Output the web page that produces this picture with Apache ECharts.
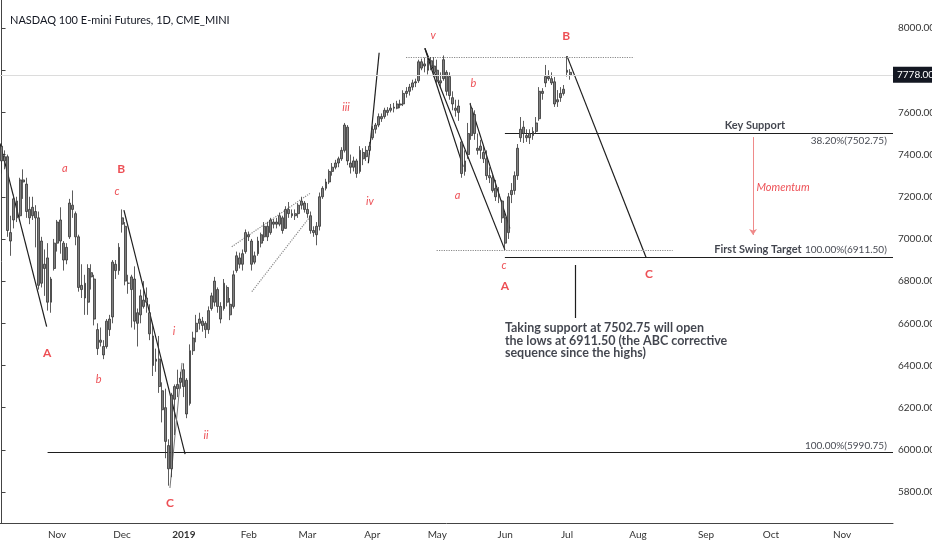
<!DOCTYPE html>
<html>
<head>
<meta charset="utf-8">
<title>NASDAQ 100 E-mini Futures, 1D</title>
<script src="https://cdn.jsdelivr.net/npm/echarts@6/dist/echarts.min.js"></script>
<style>
    html, body { margin: 0; padding: 0; background: #fff; }
    #chart { width: 932px; height: 550px; }
</style>
</head>
<body>
<div id="chart"></div>
<script>
// trading calendar (weekdays minus exchange holidays), projected to Nov 2019
var firstDay = '2018-10-08';
var lastDay = '2019-11-25';
var holidays = ['2018-11-22', '2018-12-25', '2019-01-01', '2019-01-21', '2019-02-18', '2019-04-19', '2019-05-27'];
var monthNames = ['Jan', 'Feb', 'Mar', 'Apr', 'May', 'Jun', 'Jul', 'Aug', 'Sep', 'Oct', 'Nov', 'Dec'];

// daily bars from 2018-10-08 to 2019-07-02: [open, close, low, high]
var ohlc = [
    [7440, 7370, 7310, 7455], [7370, 7390, 7330, 7420], [7390, 7040, 7010, 7400], [7030, 6990, 6920, 7110],
    [7090, 7190, 7050, 7210], [7180, 7100, 7080, 7200], [7110, 7280, 7100, 7290], [7280, 7270, 7190, 7330],
    [7260, 7130, 7100, 7290], [7140, 7100, 7070, 7200], [7110, 7150, 7090, 7200], [7130, 7100, 6960, 7160],
    [7100, 6780, 6760, 7130], [6790, 6990, 6770, 7010], [6880, 6860, 6730, 6950], [6910, 6700, 6660, 6980],
    [6700, 6810, 6650, 6820], [6860, 6980, 6850, 7000],
    [6980, 7080, 6940, 7090], [7090, 6990, 6930, 7150], [6980, 6900, 6850, 6990], [6900, 6960, 6880, 6980],
    [7010, 7170, 7000, 7190], [7160, 7140, 7100, 7230], [7120, 7010, 6970, 7130], [7010, 6770, 6750, 7020],
    [6780, 6760, 6720, 6880], [6790, 6720, 6640, 6830], [6700, 6860, 6640, 6880], [6840, 6820, 6760, 6880],
    [6810, 6620, 6590, 6830], [6570, 6480, 6450, 6600], [6520, 6510, 6490, 6580], [6490, 6450, 6430, 6520],
    [6490, 6610, 6480, 6620], [6570, 6620, 6540, 6640], [6630, 6890, 6600, 6900], [6880, 6850, 6810, 6900],
    [6850, 6960, 6830, 6980],
    [7100, 7070, 7030, 7140], [7060, 6800, 6780, 7080], [6790, 6790, 6740, 6830], [6760, 6820, 6580, 6830],
    [6810, 6610, 6570, 6870], [6600, 6650, 6490, 6670], [6730, 6640, 6600, 6760], [6680, 6710, 6670, 6800],
    [6720, 6700, 6650, 6770], [6650, 6550, 6520, 6690], [6540, 6400, 6350, 6590], [6420, 6430, 6370, 6480],
    [6430, 6300, 6270, 6540], [6280, 6190, 6130, 6320], [6200, 6040, 5960, 6290], [6020, 5910, 5830, 6050],
    [5910, 6260, 5870, 6270], [6240, 6300, 6070, 6310], [6310, 6290, 6250, 6380], [6320, 6340, 6290, 6370],
    [6300, 6380, 6250, 6410], [6330, 6170, 6150, 6340], [6220, 6470, 6210, 6500], [6470, 6530, 6450, 6560],
    [6560, 6600, 6510, 6640], [6600, 6620, 6570, 6650], [6590, 6610, 6560, 6630], [6600, 6570, 6530, 6610],
    [6570, 6660, 6550, 6680], [6670, 6730, 6660, 6745], [6700, 6800, 6680, 6820], [6760, 6680, 6650, 6770],
    [6680, 6620, 6600, 6700], [6670, 6790, 6660, 6810], [6770, 6700, 6680, 6780], [6690, 6640, 6615, 6720],
    [6680, 6830, 6670, 6850], [6850, 6920, 6840, 6940], [6910, 6880, 6860, 6935], [6880, 6930, 6850, 6950],
    [6940, 7030, 6930, 7045],
    [7020, 7010, 6990, 7035], [6990, 6880, 6850, 7000], [6890, 6920, 6880, 6940], [6930, 6990, 6920, 7010],
    [6980, 7020, 6960, 7030], [7010, 7060, 6990, 7080], [7060, 7010, 6990, 7080], [7030, 7090, 7020, 7100],
    [7080, 7070, 7050, 7095], [7070, 7080, 7050, 7100], [7070, 7110, 7060, 7125], [7100, 7040, 7025, 7110],
    [7050, 7140, 7050, 7155], [7140, 7120, 7100, 7175], [7120, 7110, 7100, 7140], [7110, 7120, 7090, 7140],
    [7120, 7160, 7100, 7170], [7160, 7180, 7140, 7200], [7170, 7140, 7125, 7180],
    [7140, 7120, 7100, 7170], [7110, 7040, 7025, 7130], [7040, 7030, 7010, 7060], [7020, 7060, 6970, 7080],
    [7060, 7200, 7040, 7220], [7200, 7240, 7190, 7250], [7240, 7270, 7230, 7285], [7270, 7320, 7260, 7330],
    [7320, 7340, 7300, 7360], [7340, 7360, 7330, 7375], [7360, 7380, 7340, 7390], [7380, 7420, 7370, 7435],
    [7420, 7540, 7410, 7550], [7530, 7370, 7350, 7540], [7360, 7340, 7310, 7400], [7340, 7370, 7320, 7390],
    [7370, 7310, 7290, 7380], [7320, 7420, 7310, 7440], [7410, 7380, 7350, 7430], [7390, 7420, 7370, 7440],
    [7420, 7440, 7400, 7460],
    [7480, 7520, 7470, 7535], [7520, 7540, 7500, 7550], [7540, 7580, 7530, 7595], [7580, 7570, 7555, 7595],
    [7580, 7610, 7570, 7622], [7600, 7610, 7585, 7625], [7610, 7620, 7600, 7640], [7620, 7625, 7600, 7645],
    [7620, 7640, 7615, 7655], [7640, 7635, 7620, 7660], [7640, 7690, 7630, 7705], [7690, 7700, 7670, 7720],
    [7700, 7720, 7680, 7735], [7720, 7740, 7705, 7755], [7740, 7745, 7720, 7760], [7750, 7840, 7740, 7850],
    [7840, 7810, 7800, 7855], [7820, 7830, 7790, 7860], [7800, 7845, 7780, 7858], [7845, 7820, 7800, 7862],
    [7820, 7790, 7768, 7862],
    [7800, 7750, 7740, 7850], [7750, 7740, 7720, 7790], [7760, 7850, 7750, 7870], [7700, 7790, 7680, 7800],
    [7770, 7680, 7660, 7790], [7670, 7640, 7610, 7700], [7610, 7620, 7580, 7660], [7630, 7600, 7560, 7660],
    [7460, 7310, 7290, 7470], [7320, 7370, 7300, 7420], [7400, 7500, 7380, 7550], [7490, 7620, 7470, 7645],
    [7590, 7500, 7470, 7610], [7420, 7430, 7400, 7500], [7440, 7420, 7380, 7470], [7410, 7380, 7360, 7440],
    [7380, 7300, 7280, 7420], [7300, 7290, 7265, 7340], [7290, 7230, 7220, 7310], [7240, 7200, 7180, 7280],
    [7200, 7210, 7170, 7246], [7180, 7100, 7076, 7185],
    [7100, 6980, 6950, 7123], [7030, 7200, 7000, 7218], [7210, 7230, 7170, 7265], [7230, 7300, 7210, 7320],
    [7300, 7430, 7280, 7450], [7480, 7520, 7460, 7578], [7530, 7500, 7455, 7560], [7490, 7480, 7460, 7520],
    [7480, 7500, 7450, 7520], [7490, 7510, 7470, 7530], [7510, 7550, 7500, 7578], [7570, 7700, 7560, 7720],
    [7700, 7690, 7660, 7715], [7740, 7770, 7720, 7825], [7770, 7760, 7750, 7800], [7760, 7740, 7730, 7790],
    [7745, 7640, 7626, 7768], [7650, 7660, 7626, 7706], [7670, 7690, 7650, 7720], [7690, 7710, 7680, 7730],
    [7800, 7790, 7770, 7867], [7790, 7778, 7755, 7805]
];
var lastPrice = 7778;

// drawn annotations, in [bar index, price]
var solidLines = [
    [[-0.5, 7453], [14.6, 6584]],
    [[39.6, 7137], [59.4, 5980]],
    [[118.7, 7359], [122.2, 7883]],
    [[137.0, 7904], [149.4, 7343]],
    [[137.0, 7904], [162.9, 6948]],
    [[151.6, 7643], [164.5, 7050]],
    [[183.0, 7867], [208.6, 6912]],
    [[185.6, 6876], [185.6, 6625]]
];
var thinLines = [
    [[54.5, 5819], [58.4, 6412]]
];
var dottedLines = [
    [[130.9, 7860], [204.7, 7860]],
    [[140.8, 6944], [217.2, 6944]],
    [[74.5, 6963], [99.8, 7216]],
    [[81.0, 6750], [99.8, 7105]]
];
var fibLevels = [[162.9, 7502.75], [162.9, 6911.5], [14.9, 5990.75]];
var momentumArrow = [[243.2, 7483], [243.2, 7019]];

// [bar index, price, text, capital wave?]
var waveLabels = [
    [14.8, 6459, 'A', 1], [20.5, 7332, 'a', 0], [38.7, 7332, 'B', 1], [37.4, 7227, 'c', 0],
    [31.4, 6336, 'b', 0], [54.5, 5745, 'C', 1], [55.8, 6563, 'i', 0], [66.2, 6067, 'ii', 0],
    [111.5, 7622, 'iii', 0], [119.2, 7180, 'iv', 0], [139.7, 7964, 'v', 0], [152.7, 7738, 'b', 0],
    [147.6, 7204, 'a', 0], [162.6, 6872, 'c', 0], [162.9, 6778, 'A', 1], [182.7, 7962, 'B', 1],
    [209.5, 6834, 'C', 1]
];
// [bar index, price, text, anchor, bold]
var noteLabels = [
    [243.8, 7540, 'Key Support', 'center', 1],
    [244.8, 6948, 'First Swing Target', 'center', 1],
    [286.5, 7464, '38.20%(7502.75)', 'right', 0],
    [286.5, 6948, '100.00%(6911.50)', 'right', 0],
    [286.5, 6019, '100.00%(5990.75)', 'right', 0],
    [162.9, 6517, 'Taking support at 7502.75 will open\nthe lows at 6911.50 (the ABC corrective\nsequence since the highs)', 'left', 2]
];
var momentumText = [252.9, 7246, 'Momentum'];

var font = "Lato, 'Liberation Sans', sans-serif";
var red = '#e8232b';
var noteSizes = [10, 11, 12.5];

var dates = [];
(function () {
    var d = new Date(firstDay + 'T00:00:00Z');
    var end = new Date(lastDay + 'T00:00:00Z');
    while (d <= end) {
        var s = d.toISOString().slice(0, 10);
        var wd = d.getUTCDay();
        if (wd !== 0 && wd !== 6 && holidays.indexOf(s) < 0) {
            dates.push(s);
        }
        d.setUTCDate(d.getUTCDate() + 1);
    }
})();

function isMonthStart(idx) {
    if (idx === 0) return false;
    return dates[idx].slice(5, 7) !== dates[idx - 1].slice(5, 7);
}

function segs(list) {
    return list.map(function (s) { return {coords: s}; });
}

var levelSegs = fibLevels.map(function (f) {
    return {coords: [[f[0], f[1]], [dates.length - 0.5, f[1]]]};
});

var labelData = waveLabels.map(function (w) {
    return {
        value: [w[0], w[1]],
        label: {
            formatter: w[2],
            color: red,
            fontSize: w[3] ? 12 : 11,
            fontWeight: w[3] ? 'bold' : 'normal',
            fontStyle: w[3] ? 'normal' : 'italic',
            position: 'inside'
        }
    };
});
noteLabels.forEach(function (n) {
    var pos = n[3] === 'center' ? 'inside' : (n[3] === 'right' ? 'left' : 'right');
    var size = noteSizes[n[4]];
    labelData.push({
        value: [n[0], n[1]],
        label: {
            formatter: n[2],
            color: '#131722',
            fontSize: size,
            fontWeight: n[4] ? 'bold' : 'normal',
            lineHeight: 12.5,
            position: pos,
            distance: 0
        }
    });
});
labelData.push({
    value: [momentumText[0], momentumText[1]],
    label: {formatter: momentumText[2], color: red, fontSize: 11, fontStyle: 'italic', position: 'inside'}
});

var chart = echarts.init(document.getElementById('chart'));
chart.setOption({
    animation: false,
    backgroundColor: '#ffffff',
    textStyle: {fontFamily: font},
    title: {
        text: 'NASDAQ 100 E-mini Futures, 1D, CME_MINI',
        left: 5,
        top: 10,
        textStyle: {fontFamily: font, fontSize: 11, fontWeight: 'normal', color: '#131722'}
    },
    grid: {left: 0, right: 39, top: 0, bottom: 27, outerBoundsMode: 'none'},
    xAxis: [{
        type: 'category',
        data: dates,
        boundaryGap: true,
        axisLine: {lineStyle: {color: '#444', width: 1}},
        axisTick: {
            alignWithLabel: true,
            length: 4,
            lineStyle: {color: '#444'},
            interval: function (idx) { return isMonthStart(idx); }
        },
        axisLabel: {
            interval: function (idx) { return isMonthStart(idx); },
            margin: 7,
            color: '#333',
            fontSize: 10,
            formatter: function (val) {
                var m = +val.slice(5, 7);
                return m === 1 ? '{y|' + val.slice(0, 4) + '}' : monthNames[m - 1];
            },
            rich: {y: {fontWeight: 'bold', fontSize: 10, color: '#333'}}
        },
        splitLine: {show: false}
    }, {
        type: 'value',
        min: -0.5,
        max: dates.length - 0.5,
        show: false
    }],
    yAxis: {
        type: 'value',
        position: 'right',
        min: 5653,
        max: 8133,
        splitNumber: 12,
        axisLine: {show: true, lineStyle: {color: '#444'}},
        axisTick: {show: true, length: 4, lineStyle: {color: '#444'}},
        axisLabel: {
            margin: 5,
            color: '#333',
            fontSize: 10,
            showMinLabel: false,
            showMaxLabel: false,
            formatter: function (v) {
                // the last-price tag covers this one
                return Math.abs(v - lastPrice) < 60 ? '' : v.toFixed(2);
            }
        },
        splitLine: {show: false}
    },
    series: [{
        type: 'candlestick',
        name: 'NQ1!',
        data: ohlc,
        barWidth: 2.4,
        itemStyle: {
            color: '#808080',
            color0: '#808080',
            borderColor: '#333333',
            borderColor0: '#333333',
            borderWidth: 0.8
        },
        markLine: {
            silent: true,
            symbol: 'none',
            data: [{yAxis: lastPrice}],
            lineStyle: {color: '#dcdcdc', type: 'solid', width: 1},
            label: {
                position: 'end',
                distance: 0,
                formatter: lastPrice.toFixed(2),
                backgroundColor: '#131722',
                color: '#fff',
                fontSize: 10,
                padding: [3, 4, 3, 4]
            }
        }
    }, {
        type: 'lines',
        coordinateSystem: 'cartesian2d',
        xAxisIndex: 1,
        silent: true,
        data: segs(solidLines).concat(levelSegs),
        lineStyle: {color: '#1e1e1e', width: 1.2, opacity: 1}
    }, {
        type: 'lines',
        coordinateSystem: 'cartesian2d',
        xAxisIndex: 1,
        silent: true,
        data: segs(thinLines),
        lineStyle: {color: '#777', width: 1, opacity: 1}
    }, {
        type: 'lines',
        coordinateSystem: 'cartesian2d',
        xAxisIndex: 1,
        silent: true,
        data: segs(dottedLines),
        lineStyle: {color: '#8a8a8a', width: 1.2, type: 'dotted', opacity: 1}
    }, {
        type: 'lines',
        coordinateSystem: 'cartesian2d',
        xAxisIndex: 1,
        silent: true,
        symbol: ['none', 'arrow'],
        symbolSize: 6,
        data: [{coords: momentumArrow}],
        lineStyle: {color: '#ef8a8a', width: 1, opacity: 1}
    }, {
        type: 'scatter',
        xAxisIndex: 1,
        silent: true,
        symbolSize: 0,
        itemStyle: {color: 'transparent'},
        label: {show: true, fontFamily: font},
        data: labelData
    }]
});
</script>
</body>
</html>
